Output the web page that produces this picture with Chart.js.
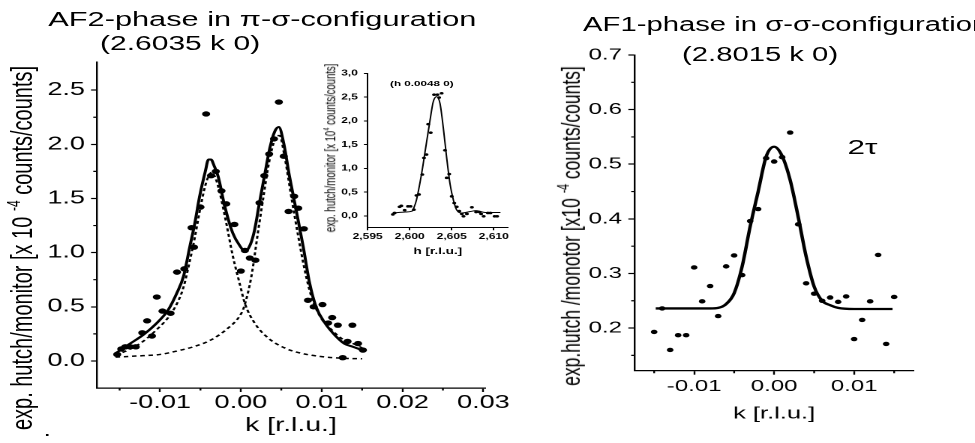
<!DOCTYPE html>
<html>
<head>
<meta charset="utf-8">
<script src="https://cdn.jsdelivr.net/npm/chart.js@4.4.1/dist/chart.umd.min.js"></script>
<style>
  html, body { margin: 0; padding: 0; background: #fff; }
  #page { position: relative; width: 975px; height: 443px; overflow: hidden; background: #fff; }
  /* the scanned figure is stretched ~1.5x horizontally, so draw narrow and widen */
  #wide { position: absolute; left: 0; top: 0; width: 650px; height: 443px;
          transform: scaleX(1.5); transform-origin: 0 0;
          font-family: "Liberation Sans", Arial, sans-serif; color: #000; }
  .lbl { position: absolute; white-space: nowrap; line-height: 1; }
  .ytitle { position: absolute; white-space: nowrap; line-height: 1;
            transform: translate(-50%, -50%) rotate(-90deg); }
  .ytitle span { font-size: 0.6em; position: relative; top: -0.7em; }
  canvas { position: absolute; }
</style>
</head>
<body>
<div id="page">
 <div id="wide">
  <canvas id="af2" width="345" height="403" style="left:0;top:40px"></canvas>
  <canvas id="inset" width="125" height="200" style="left:225px;top:60px"></canvas>
  <canvas id="af1" width="265" height="413" style="left:385px;top:30px"></canvas>

  <div class="lbl" style="left:32.2px;top:9.3px;font-size:20.5px">AF2-phase in π-σ-configuration</div>
  <div class="lbl" style="left:66.7px;top:33.1px;font-size:20px">(2.6035 k 0)</div>
  <div class="lbl" style="left:388.7px;top:15.2px;font-size:19.5px">AF1-phase in σ-σ-configuration</div>
  <div class="lbl" style="left:454.7px;top:45.2px;font-size:19.5px">(2.8015 k 0)</div>
  <div class="lbl" style="left:565px;top:135.5px;font-size:21px">2τ</div>
  <div class="lbl" style="left:260px;top:80px;font-size:7.8px;font-weight:bold">(h 0.0048 0)</div>
  <div class="lbl" style="left:29px;top:421px;font-size:18px">.</div>

  <div class="ytitle" style="left:14px;top:248px;font-size:20px">exp. hutch/monitor [x 10 <span>-4</span> counts/counts]</div>
  <div class="ytitle" style="left:220.3px;top:147.5px;font-size:9.5px">exp. hutch/monitor [x 10<span>4</span> counts/counts]</div>
  <div class="ytitle" style="left:381.3px;top:226px;font-size:17.5px">exp.hutch /monotor [x10 <span>-4</span> counts/counts]</div>
 </div>
</div>

<script>
// ==========================================
// A. DATA
// ==========================================
// AF2-phase, scan along k at (2.6035 k 0)
const AF2_K = [-0.0153, -0.0148, -0.0143, -0.0137, -0.0130, -0.0122, -0.0116, -0.0110, -0.0104, -0.0097,
               -0.0087, -0.0079, -0.0070, -0.0061, -0.0058, -0.0050, -0.0043, -0.0037, -0.0031, -0.0024,
               -0.0018, -0.0008, 0.0000, 0.0005, 0.0011, 0.0018, 0.0023, 0.0029, 0.0035, 0.0041,
               0.0047, 0.0053, 0.0059, 0.0066, 0.0071, 0.0078, 0.0083, 0.0090, 0.0101, 0.0108,
               0.0113, 0.0120, 0.0126, 0.0132, 0.0138, 0.0145, 0.0151];
const AF2_I = [0.06, 0.11, 0.13, 0.13, 0.13, 0.26, 0.37, 0.23, 0.59, 0.46,
               0.44, 0.82, 0.85, 1.23, 1.05, 1.42, 2.28, 1.71, 1.75, 1.57,
               1.45, 1.26, 0.83, 1.02, 0.95, 0.93, 1.46, 1.71, 1.91, 2.05,
               2.39, 1.89, 1.38, 1.52, 1.41, 1.22, 0.56, 0.50, 0.52, 0.35,
               0.40, 0.33, 0.03, 0.18, 0.33, 0.16, 0.10];

const AF2_FIT_K = [-0.0155, -0.0137, -0.0121, -0.0104, -0.0090, -0.0079, -0.0071, -0.0063, -0.0057, -0.0051,
                   -0.0044, -0.0040, -0.0037, -0.0033, -0.0028, -0.0020, -0.0010, -0.0001, 0.0005, 0.0012,
                   0.0017, 0.0023, 0.0030, 0.0036, 0.0042, 0.0047, 0.0053, 0.0060, 0.0069, 0.0077,
                   0.0085, 0.0093, 0.0104, 0.0116, 0.0128, 0.0139, 0.0150];
const AF2_FIT_I = [0.07, 0.16, 0.24, 0.35, 0.47, 0.63, 0.78, 1.06, 1.27, 1.52,
                   1.75, 1.86, 1.86, 1.80, 1.70, 1.43, 1.18, 1.06, 1.01, 1.08,
                   1.21, 1.46, 1.74, 1.97, 2.12, 2.16, 2.01, 1.71, 1.37, 1.06,
                   0.72, 0.50, 0.35, 0.24, 0.16, 0.13, 0.10];

// single components of the fit (dashed)
const AF2_P1_K = [-0.0155, -0.0137, -0.0121, -0.0104, -0.0090, -0.0079, -0.0071, -0.0063, -0.0057, -0.0051,
                  -0.0044, -0.0039, -0.0036, -0.0031, -0.0026, -0.0018, -0.0010, -0.0001, 0.0005, 0.0017,
                  0.0034, 0.0054, 0.0075, 0.0100, 0.0125, 0.0150];
const AF2_P1_I = [0.05, 0.11, 0.18, 0.29, 0.40, 0.53, 0.68, 0.93, 1.14, 1.38,
                  1.62, 1.72, 1.74, 1.68, 1.55, 1.27, 0.97, 0.70, 0.53, 0.35,
                  0.21, 0.12, 0.07, 0.04, 0.025, 0.02];
const AF2_P2_K = [-0.0155, -0.0130, -0.0100, -0.0080, -0.0059, -0.0038, -0.0018, -0.0001, 0.0004, 0.0013,
                  0.0021, 0.0028, 0.0034, 0.0040, 0.0045, 0.0048, 0.0054, 0.0063, 0.0071, 0.0079,
                  0.0087, 0.0098, 0.0112, 0.0128, 0.0139, 0.0150];
const AF2_P2_I = [0.035, 0.045, 0.06, 0.09, 0.13, 0.19, 0.29, 0.42, 0.50, 0.78,
                  1.18, 1.52, 1.80, 2.00, 2.08, 2.08, 1.89, 1.49, 1.15, 0.84,
                  0.60, 0.41, 0.29, 0.19, 0.16, 0.12];

const AF2_X_TICKS = [-0.01, 0, 0.01, 0.02, 0.03];
const AF2_X_MINOR = [-0.015, -0.005, 0.005, 0.015, 0.025];
const AF2_Y_TICKS = [0, 0.5, 1, 1.5, 2, 2.5];
const AF2_Y_MINOR = [0.25, 0.75, 1.25, 1.75, 2.25];

// inset, scan along h at (h 0.0048 0)
const INSET_H = [2.5980, 2.5982, 2.5988, 2.5990, 2.5994, 2.5998, 2.6001, 2.6005, 2.6008, 2.6011,
                 2.6015, 2.6017, 2.6020, 2.6022, 2.6025, 2.6029, 2.6033, 2.6035, 2.6038, 2.6042,
                 2.6044, 2.6047, 2.6050, 2.6053, 2.6056, 2.6059, 2.6062, 2.6064, 2.6068, 2.6074,
                 2.6079, 2.6083, 2.6085, 2.6088, 2.6093, 2.6096, 2.6101, 2.6104];
const INSET_I = [0.03, 0.06, 0.19, 0.21, 0.12, 0.20, 0.20, 0.13, 0.43, 0.45,
                 0.87, 1.22, 1.29, 1.93, 1.75, 2.55, 2.55, 2.49, 2.58, 1.38,
                 0.80, 0.88, 0.41, 0.27, 0.19, 0.10, 0.04, -0.01, 0.04, 0.18,
                 0.08, 0.08, 0.04, -0.01, 0.06, 0.06, -0.01, -0.01];
const INSET_FIT_H = [2.5980, 2.5995, 2.6003, 2.6005, 2.6008, 2.6014, 2.6019, 2.6024, 2.6028, 2.6032,
                     2.6036, 2.6040, 2.6044, 2.6048, 2.6052, 2.6056, 2.6062, 2.6072, 2.6079, 2.6090, 2.6108];
const INSET_FIT_I = [0.06, 0.08, 0.10, 0.17, 0.33, 0.87, 1.43, 1.99, 2.40, 2.51,
                     2.37, 1.85, 1.22, 0.67, 0.33, 0.12, 0.06, 0.09, 0.11, 0.07, 0.07];
const INSET_X_TICKS = [2.595, 2.600, 2.605, 2.610];
const INSET_Y_TICKS = [0, 0.5, 1, 1.5, 2, 2.5, 3];

// AF1-phase, scan along k at (2.8015 k 0)
const AF1_K = [-0.015, -0.014, -0.013, -0.012, -0.011, -0.010, -0.009, -0.008, -0.007, -0.006,
               -0.005, -0.004, -0.003, -0.002, -0.001, 0.000, 0.001, 0.002, 0.003, 0.004,
               0.005, 0.006, 0.007, 0.008, 0.009, 0.010, 0.011, 0.012, 0.013, 0.014, 0.015];
const AF1_I = [0.193, 0.236, 0.160, 0.187, 0.187, 0.311, 0.249, 0.277, 0.222, 0.313,
               0.333, 0.297, 0.396, 0.418, 0.511, 0.505, 0.513, 0.558, 0.390, 0.282,
               0.263, 0.250, 0.256, 0.248, 0.258, 0.180, 0.215, 0.249, 0.334, 0.171, 0.257];
const AF1_FIT_K = [-0.0148, -0.010, -0.008, -0.007, -0.006, -0.005, -0.004, -0.003, -0.002, -0.001,
                   0.000, 0.001, 0.002, 0.003, 0.004, 0.005, 0.006, 0.007, 0.008, 0.010, 0.0148];
const AF1_FIT_I = [0.236, 0.236, 0.236, 0.237, 0.244, 0.264, 0.313, 0.386, 0.450, 0.514,
                   0.532, 0.515, 0.471, 0.404, 0.331, 0.276, 0.250, 0.242, 0.237, 0.235, 0.235];
const AF1_X_TICKS = [-0.01, 0, 0.01];
const AF1_X_MINOR = [-0.015, -0.005, 0.005, 0.015];
const AF1_Y_TICKS = [0.2, 0.3, 0.4, 0.5, 0.6, 0.7];
const AF1_Y_MINOR = [0.15, 0.25, 0.35, 0.45, 0.55, 0.65];

// ==========================================
// B. HELPERS
// ==========================================
const FONT = "'Liberation Sans', Arial, sans-serif";
const pts = (xs, ys) => xs.map((x, i) => ({ x: x, y: ys[i] }));

// short ticks between the labelled ones
const minorTicks = {
    id: 'minorTicks',
    afterDraw(chart, args, opts) {
        const { ctx } = chart;
        const sx = chart.scales.x, sy = chart.scales.y;
        ctx.save();
        ctx.strokeStyle = '#000';
        ctx.lineWidth = opts.width || 1;
        ctx.beginPath();
        (opts.x || []).forEach(v => {
            const px = sx.getPixelForValue(v);
            ctx.moveTo(px, sx.top);
            ctx.lineTo(px, sx.top + opts.len);
        });
        (opts.y || []).forEach(v => {
            const py = sy.getPixelForValue(v);
            ctx.moveTo(sy.right, py);
            ctx.lineTo(sy.right - opts.len, py);
        });
        ctx.stroke();
        ctx.restore();
    }
};

function axis(o) {
    return {
        type: 'linear',
        min: o.min,
        max: o.max,
        border: { display: true, color: '#000', width: o.lw || 1.2 },
        grid: { drawOnChartArea: false, drawTicks: true, tickLength: o.tick, tickColor: '#000', tickWidth: o.lw || 1.2 },
        ticks: { color: '#000', font: o.font, padding: o.pad, autoSkip: false, maxRotation: 0, callback: o.fmt },
        title: o.title
            ? { display: true, text: o.title, color: '#000', font: o.titleFont, padding: { top: 0, bottom: o.titlePad } }
            : { display: false },
        afterBuildTicks: s => { s.ticks = o.list.map(v => ({ value: v })); },
        afterFit: s => {
            if (o.horizontal) { s.height = o.size; s.paddingLeft = 0; s.paddingRight = 0; }
            else { s.width = o.size; s.paddingTop = 0; s.paddingBottom = 0; }
        }
    };
}

function baseOptions(padding, scales, minor) {
    return {
        responsive: false,
        animation: false,
        devicePixelRatio: 2,
        layout: { padding: padding },
        plugins: { legend: { display: false }, tooltip: { enabled: false }, minorTicks: minor },
        scales: scales
    };
}

// ==========================================
// C. CHARTS
// ==========================================
new Chart(document.getElementById('af2'), {
    type: 'scatter',
    data: {
        datasets: [
            { data: pts(AF2_K, AF2_I), pointRadius: 2.7, pointBackgroundColor: '#000', pointBorderWidth: 0 },
            { data: pts(AF2_FIT_K, AF2_FIT_I), showLine: true, pointRadius: 0, borderColor: '#000', borderWidth: 2,
              cubicInterpolationMode: 'monotone' },
            { data: pts(AF2_P1_K, AF2_P1_I), showLine: true, pointRadius: 0, borderColor: '#000', borderWidth: 1.5,
              borderDash: [3, 2.5], cubicInterpolationMode: 'monotone' },
            { data: pts(AF2_P2_K, AF2_P2_I), showLine: true, pointRadius: 0, borderColor: '#000', borderWidth: 1.5,
              borderDash: [3, 2.5], cubicInterpolationMode: 'monotone' }
        ]
    },
    options: baseOptions({ top: 22, right: 21.7, left: 0, bottom: 0 }, {
        x: axis({ min: -0.0178, max: 0.0302, list: AF2_X_TICKS, horizontal: true, size: 55, tick: 4, pad: 0,
                  font: { family: FONT, size: 18 }, fmt: v => v.toFixed(2),
                  title: 'k [r.l.u.]', titleFont: { family: FONT, size: 19 }, titlePad: 5.6 }),
        y: axis({ min: -0.25, max: 2.76, list: AF2_Y_TICKS, size: 64.67, tick: 4, pad: 4,
                  font: { family: FONT, size: 18 }, fmt: v => v.toFixed(1) })
    }, { x: AF2_X_MINOR, y: AF2_Y_MINOR, len: 2.5, width: 1.2 }),
    plugins: [minorTicks]
});

new Chart(document.getElementById('inset'), {
    type: 'scatter',
    data: {
        datasets: [
            { data: pts(INSET_H, INSET_I), pointRadius: 1.3, pointBackgroundColor: '#000', pointBorderWidth: 0 },
            { data: pts(INSET_FIT_H, INSET_FIT_I), showLine: true, pointRadius: 0, borderColor: '#000', borderWidth: 1,
              cubicInterpolationMode: 'monotone' }
        ]
    },
    options: baseOptions({ top: 13.3, right: 11.3, left: 0, bottom: 0 }, {
        x: axis({ min: 2.595, max: 2.6117, list: INSET_X_TICKS, horizontal: true, size: 32.3, tick: 2.5, pad: 1.7, lw: 1,
                  font: { family: FONT, size: 8, weight: 'bold' }, fmt: v => v.toFixed(3).replace('.', ','),
                  title: 'h [r.l.u.]', titleFont: { family: FONT, size: 9, weight: 'bold' }, titlePad: 2.9 }),
        y: axis({ min: -0.25, max: 3.0, list: INSET_Y_TICKS, size: 20.1, tick: 2.5, pad: 4, lw: 1,
                  font: { family: FONT, size: 8, weight: 'bold' }, fmt: v => v.toFixed(1).replace('.', ',') })
    }, { x: [], y: [], len: 0, width: 1 }),
    plugins: [minorTicks]
});

new Chart(document.getElementById('af1'), {
    type: 'scatter',
    data: {
        datasets: [
            { data: pts(AF1_K, AF1_I), pointRadius: 2.2, pointBackgroundColor: '#000', pointBorderWidth: 0 },
            { data: pts(AF1_FIT_K, AF1_FIT_I), showLine: true, pointRadius: 0, borderColor: '#000', borderWidth: 2.3,
              cubicInterpolationMode: 'monotone' }
        ]
    },
    options: baseOptions({ top: 25, right: 41.1, left: 0, bottom: 0 }, {
        x: axis({ min: -0.0174, max: 0.0174, list: AF1_X_TICKS, horizontal: true, size: 72.3, tick: 4, pad: 2.5,
                  font: { family: FONT, size: 16 }, fmt: v => v.toFixed(2),
                  title: 'k [r.l.u.]', titleFont: { family: FONT, size: 17 }, titlePad: 18.8 }),
        y: axis({ min: 0.122, max: 0.7, list: AF1_Y_TICKS, size: 38.3, tick: 4.4, pad: 4.3,
                  font: { family: FONT, size: 16 }, fmt: v => v.toFixed(1) })
    }, { x: AF1_X_MINOR, y: AF1_Y_MINOR, len: 2.5, width: 1.2 }),
    plugins: [minorTicks]
});
</script>
</body>
</html>
